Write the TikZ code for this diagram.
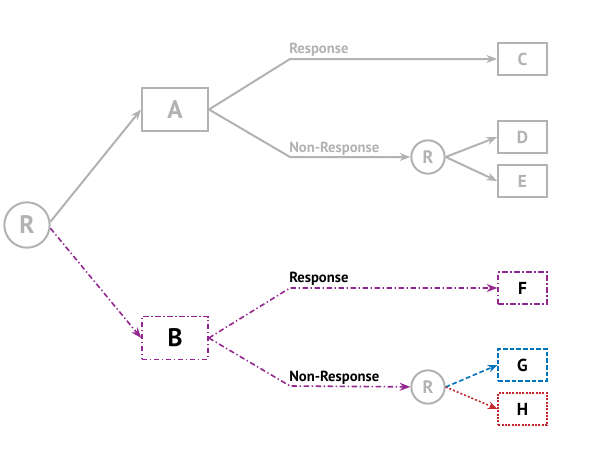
\documentclass[tikz,border=0pt]{standalone}
\usepackage{fontspec}
\setmainfont{PT Sans}
\usetikzlibrary{arrows.meta}

\definecolor{lgray}{RGB}{178,178,178}
\definecolor{dpurple}{RGB}{147,39,143}
\definecolor{dblue}{RGB}{0,113,188}
\definecolor{dred}{RGB}{193,39,45}

\tikzset{
  bigbox/.style={draw, line width=1.5pt, minimum width=49.5pt, minimum height=32pt, inner sep=0pt, font=\bfseries\fontsize{19}{19}\selectfont},
  endbox/.style={draw, line width=1.5pt, minimum width=36.5pt, minimum height=24pt, inner sep=0pt, font=\bfseries\fontsize{13}{13}\selectfont},
  rcircle/.style={draw=lgray, text=lgray, circle, line width=1.5pt, inner sep=0pt, font=\bfseries},
  grayline/.style={draw=lgray, line width=1.5pt},
  grayarrow/.style={grayline, -{Stealth[length=8pt,width=6pt]}},
  dashdot/.style={draw=dpurple, line width=1.2pt, dash pattern=on 4pt off 2pt on 1pt off 2pt},
  lbl/.style={anchor=south west, inner sep=0pt, font=\bfseries\fontsize{11}{11}\selectfont},
}

\begin{document}
\begin{tikzpicture}[x=0.75pt,y=0.75pt,yscale=-1,xscale=1]
\useasboundingbox (0,0) rectangle (600,450);

% Randomisation nodes
\node [rcircle, minimum size=34pt, font=\bfseries\fontsize{19}{19}\selectfont] (r0) at (27,225) {R};
\node [rcircle, minimum size=25pt, font=\bfseries\fontsize{13.5}{13.5}\selectfont] (r1) at (428,157) {R};
\node [rcircle, minimum size=25pt, font=\bfseries\fontsize{13.5}{13.5}\selectfont] (r2) at (428,387) {R};

% Treatment boxes
\node [bigbox, draw=lgray, text=lgray] (a) at (175,109.5) {A};
\node [bigbox, draw=dpurple, dash pattern=on 4pt off 2pt on 1pt off 2pt, line width=1.2pt] (b) at (175,338) {B};

% Outcome boxes
\node [endbox, draw=lgray, text=lgray] (c) at (522.5,59) {C};
\node [endbox, draw=lgray, text=lgray] (d) at (522.5,137) {D};
\node [endbox, draw=lgray, text=lgray] (e) at (522.5,181) {E};
\node [endbox, draw=dpurple, dash pattern=on 4pt off 2pt on 1pt off 2pt, line width=1.2pt] (f) at (522.5,288) {F};
\node [endbox, draw=dblue, dash pattern=on 3.5pt off 1.5pt, line width=1.2pt] (g) at (522.5,365) {G};
\node [endbox, draw=dred, dash pattern=on 1.5pt off 1pt, line width=1.2pt] (h) at (522.5,409) {H};

% Bend points
\coordinate (a1) at (290,59);
\coordinate (a2) at (290,157);
\coordinate (b1) at (290,288);
\coordinate (b2) at (290,386);

% Upper branch
\draw [grayarrow] (r0.8) -- (a.west);
\draw [grayarrow] (a.east) -- (a1) -- (c);
\draw [grayarrow] (a.east) -- (a2) -- (r1);
\draw [grayarrow] (r1.east) -- (d.west);
\draw [grayarrow] (r1.east) -- (e.west);

% Lower branch
\draw [dashdot, -{Stealth[length=8pt,width=6pt]}] (r0.-8) -- (b.west);
\draw [dashdot, -{Stealth[length=8pt,width=6pt]}] (b.east) -- (b1) -- (f);
\draw [dashdot, -{Stealth[length=8pt,width=6pt]}] (b.east) -- (b2) -- (r2);
\draw [draw=dblue, line width=1.2pt, dash pattern=on 3.5pt off 2pt, -{Stealth[length=7pt,width=5.5pt]}] (r2.east) -- (g.west);
\draw [draw=dred, line width=1.2pt, dash pattern=on 1.5pt off 1.5pt, -{Stealth[length=7pt,width=5.5pt]}] (r2.east) -- (h.west);

% Text Node
\node [lbl, text=lgray] (t1) at (289,57) {Response};
% Text Node
\node [lbl, text=lgray] (t2) at (289,156) {Non-Response};
% Text Node
\node [lbl] (t3) at (289,286) {Response};
% Text Node
\node [lbl] (t4) at (289,385) {Non-Response};

\end{tikzpicture}
\end{document}
